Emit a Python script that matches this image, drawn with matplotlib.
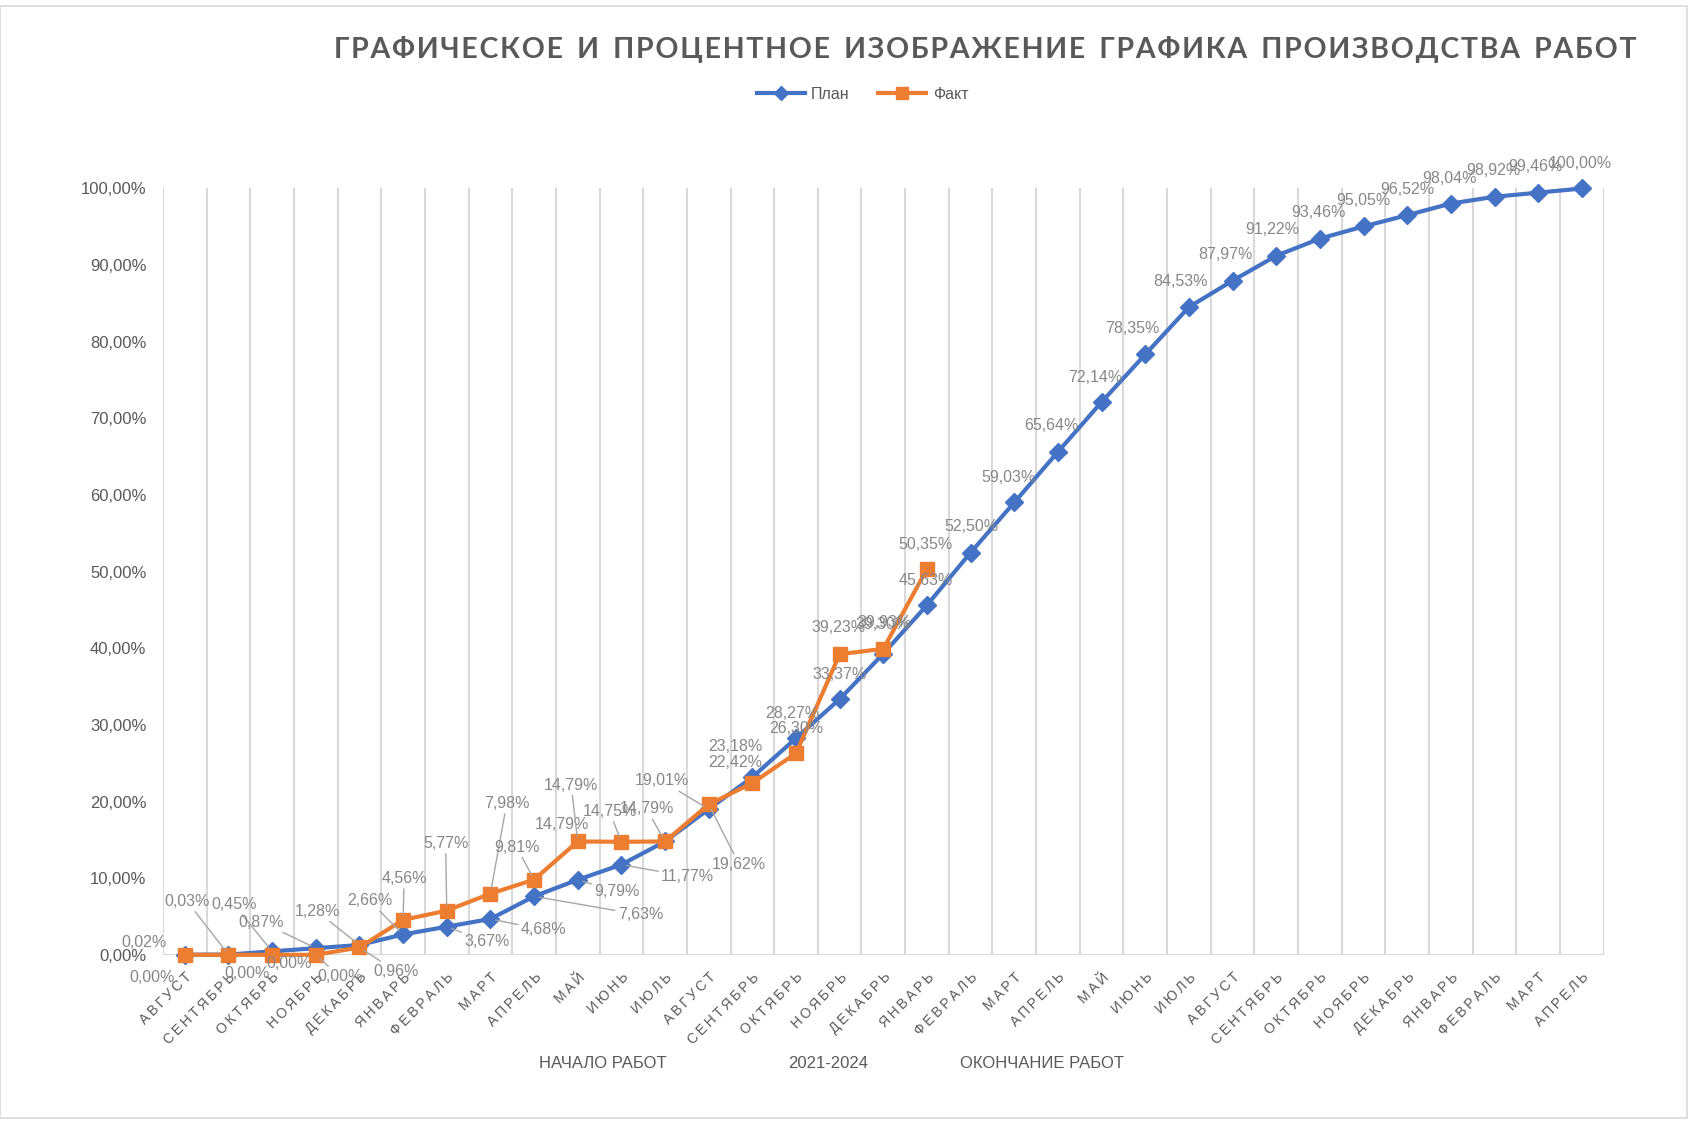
import matplotlib
matplotlib.use('Agg')
import matplotlib.pyplot as plt
from matplotlib import font_manager
from matplotlib.lines import Line2D
from matplotlib.patches import Rectangle

months = ['АВГУСТ', 'СЕНТЯБРЬ', 'ОКТЯБРЬ', 'НОЯБРЬ', 'ДЕКАБРЬ', 'ЯНВАРЬ', 'ФЕВРАЛЬ',
          'МАРТ', 'АПРЕЛЬ', 'МАЙ', 'ИЮНЬ', 'ИЮЛЬ',
          'АВГУСТ', 'СЕНТЯБРЬ', 'ОКТЯБРЬ', 'НОЯБРЬ', 'ДЕКАБРЬ', 'ЯНВАРЬ', 'ФЕВРАЛЬ',
          'МАРТ', 'АПРЕЛЬ', 'МАЙ', 'ИЮНЬ', 'ИЮЛЬ',
          'АВГУСТ', 'СЕНТЯБРЬ', 'ОКТЯБРЬ', 'НОЯБРЬ', 'ДЕКАБРЬ', 'ЯНВАРЬ', 'ФЕВРАЛЬ',
          'МАРТ', 'АПРЕЛЬ']
plan = [0.02, 0.03, 0.45, 0.87, 1.28, 2.66, 3.67, 4.68, 7.63, 9.79, 11.77, 14.79,
        19.01, 23.18, 28.27, 33.37, 39.30, 45.63, 52.50, 59.03, 65.64, 72.14, 78.35,
        84.53, 87.97, 91.22, 93.46, 95.05, 96.52, 98.04, 98.92, 99.46, 100.00]
fact = [0.00, 0.00, 0.00, 0.00, 0.96, 4.56, 5.77, 7.98, 9.81, 14.79, 14.75, 14.79,
        19.62, 22.42, 26.30, 39.23, 39.93, 50.35]
y_ticks = [0, 10, 20, 30, 40, 50, 60, 70, 80, 90, 100]
footer = ['НАЧАЛО РАБОТ', '2021-2024', 'ОКОНЧАНИЕ РАБОТ']
title = 'ГРАФИЧЕСКОЕ И ПРОЦЕНТНОЕ ИЗОБРАЖЕНИЕ ГРАФИКА ПРОИЗВОДСТВА РАБОТ'

# data label offsets (reference px, dx right / dy up) and leader-line flag
plan_off = [(-38, 11, 0), (-38, 49, 1), (-35, 43, 1), (-50, 24, 1), (-39, 31, 1),
            (-31, 31, 1), (37, -14, 1), (49, -10, 1), (98, -17, 1), (36, -11, 1),
            (61, -11, 1), (-95, 16, 0), (-43, 26, 1), (-16, 28, 0), (-3, 23, 0),
            (0, 23, 0), (-1, 27, 0), (-1, 23, 0), (1, 24, 0), (-5, 23, 0),
            (-6, 24, 0), (-6, 23, 0), (-12, 24, 0), (-8, 24, 0), (-7, 24, 0),
            (-4, 24, 0), (-1, 24, 0), (0, 24, 0), (0, 24, 0), (-1, 23, 0),
            (-1, 24, 0), (-3, 24, 0), (-1, 23, 0)]
fact_off = [(-30, -21, 0), (17, -17, 0), (16, -8, 0), (22, -20, 1), (34, -22, 1),
            (1, 38, 1), (-1, 62, 1), (15, 83, 1), (-16, 30, 1), (-6, 52, 1),
            (-11, 28, 1), (-17, 30, 1), (28, -55, 1), (-16, 19, 0), (0, 23, 0),
            (-1, 25, 0), (1, 24, 0), (-1, 23, 0)]
PX2PT = 1.085 * 0.72

BLUE = '#4472C4'
ORANGE = '#ED7D31'
DARK = '#595959'
LABEL = '#878787'
GRID = '#D9D9D9'

names = {f.name for f in font_manager.fontManager.ttflist}
base = 'Liberation Sans' if 'Liberation Sans' in names else 'DejaVu Sans'
title_font = 'Lato' if 'Lato' in names else 'Open Sans'
plt.rcParams['font.family'] = [base, 'DejaVu Sans']


def pct(v):
    return f'{v:.2f}%'.replace('.', ',')


def spaced(s):
    return '\u2009'.join(s)


fig = plt.figure(figsize=(17.01, 11.22), dpi=100)
fig.patches.append(Rectangle((0.0, 0.004), 0.992, 0.991, transform=fig.transFigure,
                             fill=False, edgecolor=GRID, lw=1.2))
ax = fig.add_axes([0.0958, 0.149, 0.847, 0.683])

x_plan = list(range(len(plan)))
x_fact = list(range(len(fact)))
ax.plot(x_plan, plan, color=BLUE, lw=3, marker='D', ms=9, zorder=3, clip_on=False)
ax.plot(x_fact, fact, color=ORANGE, lw=3, marker='s', ms=10.5, zorder=4, clip_on=False)

for xs, vals, offs in ((x_plan, plan, plan_off), (x_fact, fact, fact_off)):
    for x, v, (dx, dy, lead) in zip(xs, vals, offs):
        kw = {}
        if lead:
            kw['arrowprops'] = dict(arrowstyle='-', color='#A6A6A6', lw=1,
                                    shrinkA=0, shrinkB=4)
        ax.annotate(pct(v), (x, v), xytext=(dx * PX2PT, dy * PX2PT),
                    textcoords='offset points', ha='center', va='center',
                    fontsize=11.5, color=LABEL, zorder=5, **kw)

ax.set_xlim(-0.5, len(months) - 0.5)
ax.set_ylim(0, 100)
for k in range(len(months) + 1):
    ax.axvline(k - 0.5, color=GRID, lw=1.5, zorder=1)
ax.axhline(0, color=GRID, lw=1.5, zorder=1)

ax.set_xticks(range(len(months)))
ax.set_xticklabels([spaced(m) for m in months], rotation=45, ha='right',
                   rotation_mode='anchor', fontsize=10, color=DARK)
for t in ax.get_xticklabels():
    t.set_x(t.get_position()[0] - 0.1)
ax.set_yticks(y_ticks)
ax.set_yticklabels([pct(v) for v in y_ticks], fontsize=12, color=DARK)
ax.tick_params(axis='both', length=0)
ax.tick_params(axis='x', pad=11)
ax.tick_params(axis='y', pad=12)
for s in ax.spines.values():
    s.set_visible(False)

fig.text(0.579, 0.956, '\u200a'.join(title).replace('\u200a \u200a', '\u2009 \u2009'),
         ha='center', va='center', fontsize=20.5, fontweight='bold', color=DARK,
         family=[title_font, 'DejaVu Sans'])

handles = [Line2D([], [], color=BLUE, lw=3, marker='D', ms=7),
           Line2D([], [], color=ORANGE, lw=3, marker='s', ms=9)]
fig.legend(handles, ['План', 'Факт'], loc='center', bbox_to_anchor=(0.507, 0.916),
           ncol=2, frameon=False, fontsize=11.5, labelcolor=DARK, handlelength=3.0,
           columnspacing=1.8, handletextpad=0.4)

for txt, xf in zip(footer, (0.3545, 0.4868, 0.6125)):
    fig.text(xf, 0.052, txt, ha='center', va='center', fontsize=12,
             color=DARK)

fig.savefig('out.png', dpi=100)
